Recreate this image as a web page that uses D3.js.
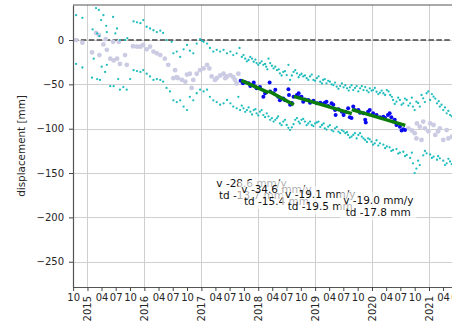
<!DOCTYPE html>
<html>
<head>
<meta charset="utf-8">
<script src="https://cdn.jsdelivr.net/npm/d3@7"></script>
<style>
  body { margin: 0; background: #fff; }
  svg { display: block; font-family: "DejaVu Sans", sans-serif; }
</style>
</head>
<body>
<svg id="chart" width="452" height="326"></svg>
<script>
// displacement series, [decimal year, mm]
const grayPts = [
  [2014.80, 0], [2014.91, -3], [2015.08, -14], [2015.15, 8], [2015.20, 5.6], [2015.21, -17],
  [2015.28, -5], [2015.32, 1], [2015.34, -11], [2015.40, -21], [2015.45, -2], [2015.46, -23],
  [2015.52, -21], [2015.55, -2], [2015.57, -27], [2015.66, -17], [2015.69, -28], [2015.80, -7],
  [2015.87, -7.5], [2015.93, -7.5], [2015.98, -5.6], [2016.04, -10.5], [2016.10, -7.5], [2016.16, -13],
  [2016.22, -15], [2016.28, -17], [2016.36, -21], [2016.42, -28], [2016.51, -43], [2016.54, -34],
  [2016.57, -42], [2016.59, -43], [2016.66, -45], [2016.72, -47], [2016.75, -39], [2016.80, -38],
  [2016.83, -54], [2016.86, -45], [2016.92, -38], [2016.98, -34], [2017.04, -32], [2017.10, -28],
  [2017.14, -32], [2017.18, -41], [2017.24, -45], [2017.27, -43], [2017.33, -40], [2017.39, -38],
  [2017.42, -43], [2017.45, -41], [2017.51, -39.5], [2017.56, -42], [2017.59, -45], [2017.62, -49],
  [2017.65, -38],
  [2020.64, -99.6], [2020.70, -102], [2020.75, -105], [2020.78, -111], [2020.79, -94], [2020.84, -97.7],
  [2020.87, -112.7], [2020.90, -92], [2020.93, -99.6], [2020.99, -103], [2021.02, -94], [2021.08, -95.8],
  [2021.11, -107], [2021.16, -103], [2021.19, -99.6], [2021.25, -112.7], [2021.31, -101.5], [2021.34, -111],
  [2021.40, -109]
];

const bluePts = [
  [2017.69, -45.9], [2017.73, -48.8], [2017.77, -47.7], [2017.83, -48.8], [2017.86, -51.9], [2017.92, -48],
  [2017.94, -52], [2017.97, -54.5], [2018.03, -53], [2018.09, -64], [2018.12, -60], [2018.20, -48],
  [2018.21, -58], [2018.27, -60], [2018.30, -56], [2018.35, -64], [2018.38, -68], [2018.44, -66],
  [2018.47, -68], [2018.53, -55.6], [2018.54, -62], [2018.56, -73], [2018.59, -71], [2018.62, -64],
  [2018.68, -62], [2018.71, -60], [2018.73, -64.6], [2018.76, -64], [2018.79, -69.5], [2018.82, -67],
  [2018.88, -67.6], [2018.91, -70.7], [2018.97, -68.4], [2019.03, -71.4], [2019.09, -70.7], [2019.14, -72],
  [2019.17, -70.7], [2019.20, -69.5], [2019.23, -74.4], [2019.29, -71.4], [2019.32, -73], [2019.35, -79],
  [2019.36, -84.6], [2019.41, -78], [2019.47, -80.8], [2019.50, -84.6], [2019.53, -80.8], [2019.58, -77],
  [2019.61, -87], [2019.64, -88], [2019.67, -75], [2019.70, -79], [2019.76, -79], [2019.79, -82],
  [2019.85, -82.6], [2019.88, -90], [2019.89, -93], [2019.93, -80.8], [2019.96, -79], [2020.02, -82.6],
  [2020.08, -84.6], [2020.14, -87], [2020.20, -86.5], [2020.23, -88], [2020.28, -84.6], [2020.31, -82.6],
  [2020.34, -87], [2020.37, -92], [2020.40, -90], [2020.43, -95.8], [2020.49, -97.7], [2020.52, -102],
  [2020.55, -100.7], [2020.58, -101.5]
];

const cyanUpper = [
  [2014.80, 28], [2014.91, 25], [2015.09, 12], [2015.15, 36], [2015.17, 7.5], [2015.20, 34],
  [2015.21, 4.5], [2015.24, 22.5], [2015.28, 28], [2015.33, 16], [2015.34, 9], [2015.45, 26],
  [2015.49, 7.5], [2015.52, 13], [2015.57, 0], [2015.66, 0], [2015.70, 2], [2015.81, 21],
  [2015.87, 20], [2015.93, 19], [2015.98, 22.5], [2016.04, 15], [2016.10, 13], [2016.16, 11],
  [2016.22, 9], [2016.28, 10.5], [2016.33, 8], [2016.39, 0], [2016.48, -2], [2016.51, -15],
  [2016.57, -13], [2016.63, -19], [2016.69, -10.5], [2016.75, -5.6], [2016.80, -12], [2016.86, -15],
  [2016.92, -4], [2016.98, 1], [2017.01, -1], [2017.04, -2], [2017.10, -4], [2017.15, -9],
  [2017.21, -13], [2017.27, -11], [2017.33, -13], [2017.39, -11], [2017.45, -15], [2017.51, -13],
  [2017.56, -17], [2017.62, -15], [2017.67, -9], [2017.71, -19], [2017.77, -21], [2017.83, -22.5],
  [2017.89, -21], [2017.92, -24.5], [2017.97, -26], [2018.03, -26], [2018.09, -28], [2018.14, -30],
  [2018.18, -21], [2018.21, -26], [2018.27, -32], [2018.33, -34], [2018.38, -37.5], [2018.44, -36],
  [2018.50, -39.5], [2018.53, -28], [2018.56, -45], [2018.62, -36], [2018.68, -37.5], [2018.73, -39.5],
  [2018.79, -41], [2018.85, -43], [2018.91, -41], [2018.97, -45], [2019.03, -43], [2019.09, -47],
  [2019.14, -45], [2019.20, -48.8], [2019.26, -47], [2019.32, -50.7], [2019.38, -52.6], [2019.44, -51.9],
  [2019.50, -53.3], [2019.56, -54.5], [2019.61, -53.3], [2019.67, -56.4], [2019.73, -51.9], [2019.79, -54.5],
  [2019.85, -56.4], [2019.91, -57], [2019.96, -54.5], [2020.02, -56.4], [2020.08, -58.3], [2020.14, -59.4],
  [2020.20, -60], [2020.26, -56.4], [2020.32, -62], [2020.37, -67.6], [2020.43, -69.5], [2020.49, -67.6],
  [2020.55, -71.4], [2020.61, -67.6], [2020.67, -71.4], [2020.72, -75], [2020.78, -69.5], [2020.84, -75],
  [2020.90, -65.7], [2020.96, -60], [2021.02, -67.6], [2021.08, -63.9], [2021.14, -71.4], [2021.19, -75],
  [2021.25, -79], [2021.31, -82.6], [2021.37, -84.6],
  [2017.74, -17], [2017.80, -24], [2017.86, -19], [2017.95, -22], [2018.00, -28], [2018.06, -24],
  [2018.12, -27], [2018.16, -33], [2018.24, -29], [2018.30, -30], [2018.36, -33], [2018.41, -40],
  [2018.47, -35], [2018.59, -40], [2018.65, -34], [2018.71, -42], [2018.76, -38], [2018.82, -40],
  [2018.88, -45], [2018.94, -39], [2019.00, -46], [2019.06, -41], [2019.12, -49], [2019.17, -44],
  [2019.23, -46], [2019.29, -50], [2019.35, -48], [2019.41, -55], [2019.47, -49], [2019.53, -51],
  [2019.59, -57], [2019.64, -51], [2019.70, -54], [2019.76, -58], [2019.82, -52], [2019.88, -53],
  [2019.94, -59], [2019.99, -57], [2020.05, -54], [2020.11, -61], [2020.17, -57], [2020.23, -62],
  [2020.29, -58], [2020.35, -64], [2020.40, -72], [2020.46, -65], [2020.52, -73], [2020.58, -66],
  [2020.64, -74], [2020.70, -65], [2020.75, -79], [2020.81, -71], [2020.87, -62], [2020.93, -70],
  [2020.99, -58], [2021.05, -61], [2021.11, -66], [2021.17, -69], [2021.22, -73], [2021.28, -76],
  [2021.34, -80], [2021.40, -86]
];

const cyanLower = [
  [2014.80, -27], [2014.91, -31], [2015.08, -42.5], [2015.11, -21], [2015.17, -44], [2015.22, -45],
  [2015.25, -30], [2015.31, -36], [2015.34, -28], [2015.40, -52], [2015.46, -52], [2015.54, -44],
  [2015.57, -56], [2015.63, -53], [2015.69, -56], [2015.75, -44], [2015.81, -34], [2015.87, -35],
  [2015.93, -36], [2015.98, -34], [2016.04, -38], [2016.10, -41], [2016.16, -45], [2016.22, -44],
  [2016.28, -45], [2016.33, -47], [2016.39, -54], [2016.45, -58], [2016.51, -68], [2016.57, -70],
  [2016.63, -68], [2016.69, -75], [2016.75, -79], [2016.80, -64], [2016.86, -68], [2016.92, -60],
  [2016.98, -56], [2017.04, -58], [2017.10, -56], [2017.15, -64], [2017.21, -68], [2017.27, -70],
  [2017.33, -73], [2017.39, -71.4], [2017.45, -67.6], [2017.51, -71.4], [2017.56, -75], [2017.62, -77],
  [2017.65, -64], [2017.68, -79], [2017.74, -77], [2017.80, -79], [2017.86, -80.8], [2017.92, -79],
  [2017.97, -82.6], [2018.03, -80.8], [2018.09, -84.6], [2018.15, -82.6], [2018.21, -90], [2018.27, -92],
  [2018.33, -88], [2018.38, -94], [2018.44, -92], [2018.50, -95.8], [2018.56, -101.5], [2018.59, -98.4],
  [2018.65, -90], [2018.71, -92], [2018.76, -90], [2018.82, -92], [2018.88, -94], [2018.94, -95.8],
  [2019.00, -94], [2019.06, -92], [2019.12, -95.8], [2019.17, -99.6], [2019.23, -97.7], [2019.29, -101.5],
  [2019.35, -99.6], [2019.41, -103.4], [2019.47, -101.5], [2019.53, -105], [2019.58, -107], [2019.64, -109],
  [2019.70, -105], [2019.76, -107], [2019.82, -109], [2019.88, -112.7], [2019.93, -110.8], [2019.99, -114.6],
  [2020.05, -116.5], [2020.14, -116.5], [2020.26, -120], [2020.37, -124], [2020.49, -127], [2020.61, -129.6],
  [2020.72, -139], [2020.75, -150], [2020.84, -141], [2020.96, -127.8], [2021.08, -131.5], [2021.14, -135],
  [2021.19, -133.4], [2021.31, -139], [2021.37, -137],
  [2017.71, -74], [2017.77, -81], [2017.83, -76], [2017.89, -84], [2017.95, -78], [2018.00, -85],
  [2018.06, -79], [2018.12, -87], [2018.18, -86], [2018.24, -88], [2018.30, -90], [2018.35, -86],
  [2018.41, -96], [2018.47, -90], [2018.53, -99], [2018.62, -95], [2018.68, -88], [2018.73, -94],
  [2018.79, -89], [2018.85, -96], [2018.91, -92], [2018.97, -97], [2019.03, -93], [2019.09, -98],
  [2019.15, -94], [2019.20, -101], [2019.26, -96], [2019.32, -103], [2019.38, -98], [2019.44, -105],
  [2019.50, -103], [2019.56, -104], [2019.61, -110], [2019.67, -107], [2019.73, -111], [2019.79, -105],
  [2019.85, -111], [2019.91, -115], [2019.96, -112], [2020.02, -118], [2020.08, -113], [2020.11, -119],
  [2020.20, -118], [2020.23, -122], [2020.31, -121], [2020.34, -125], [2020.43, -123], [2020.46, -128],
  [2020.55, -126], [2020.58, -131], [2020.67, -133], [2020.70, -127], [2020.78, -145], [2020.81, -136],
  [2020.90, -130], [2020.93, -125], [2021.02, -129], [2021.05, -133], [2021.16, -131], [2021.25, -136],
  [2021.28, -141], [2021.34, -134], [2021.40, -140]
];

// piecewise linear fits
const segStart = [2017.70, 2018.18, 2018.625, 2019.645];
const segEnd = [2018.18, 2018.625, 2019.645, 2020.585];
const segStartValue = [-45.5, -57.5, -63.5, -78.5];
const velocity = [-28.6, -34.6, -19.1, -19.0];
const totalDisp = [-13.7, -15.4, -19.5, -17.8];
const labelYear = [2017.88, 2018.32, 2019.09, 2020.11];
const labelValue = [-168.5, -175.3, -181.5, -188];

const yTicks = [0, -50, -100, -150, -200, -250];

const toDate = d => {
  const yr = Math.floor(d);
  return new Date(Date.UTC(yr, 0, 1) + (d - yr) * 365.25 * 864e5);
};

const svg = d3.select("#chart");
const plotLeft = 73, plotTop = 5, plotBottom = 287, plotRight = 463;

const x = d3.scaleUtc()
  .domain([toDate(2014.745), toDate(2021.597)])
  .range([plotLeft, plotRight]);

const y = d3.scaleLinear()
  .domain([-278.5, 39.5])
  .range([plotBottom, plotTop]);

// grid
const grid = svg.append("g").attr("stroke", "#cfcfcf").attr("stroke-width", 1);
grid.selectAll("line.h").data(yTicks).join("line")
  .attr("x1", plotLeft).attr("x2", plotRight)
  .attr("y1", d => Math.round(y(d)) + 0.5).attr("y2", d => Math.round(y(d)) + 0.5);
grid.selectAll("line.v").data(d3.utcYear.range(x.domain()[0], x.domain()[1])).join("line")
  .attr("x1", d => Math.round(x(d)) + 0.5).attr("x2", d => Math.round(x(d)) + 0.5)
  .attr("y1", plotTop).attr("y2", plotBottom);

// zero line
svg.append("line")
  .attr("x1", plotLeft).attr("x2", plotRight)
  .attr("y1", y(0)).attr("y2", y(0))
  .attr("stroke", "#444").attr("stroke-width", 1.5)
  .attr("stroke-dasharray", "5.5,2.4");

// points
const dots = (data, r, color) => svg.append("g")
  .selectAll("circle").data(data).join("circle")
  .attr("cx", d => x(toDate(d[0])))
  .attr("cy", d => y(d[1]))
  .attr("r", r)
  .attr("fill", color);

dots(grayPts, 2.4, "#cbcbe3");
dots(cyanUpper, 1.15, "#1fbdbd");
dots(cyanLower, 1.15, "#1fbdbd");
dots(bluePts, 2, "#0a0af0");

// fit segments
svg.append("g").selectAll("line").data(segStart).join("line")
  .attr("x1", d => x(toDate(d)))
  .attr("x2", (d, i) => x(toDate(segEnd[i])))
  .attr("y1", (d, i) => y(segStartValue[i]))
  .attr("y2", (d, i) => y(segStartValue[i] + totalDisp[i]))
  .attr("stroke", "#0a7d0a")
  .attr("stroke-width", 3.5);

// axes
const yAxis = svg.append("g")
  .attr("transform", `translate(${plotLeft},0)`)
  .call(d3.axisLeft(y).tickValues(yTicks).tickSize(4).tickPadding(5).tickSizeOuter(0));

const xAxis = svg.append("g")
  .attr("transform", `translate(0,${plotBottom})`)
  .call(d3.axisBottom(x)
    .ticks(d3.utcMonth.every(3))
    .tickSize(4).tickSizeOuter(0)
    .tickFormat(d => d.getUTCMonth() === 0 ? d.getUTCFullYear() : d3.utcFormat("%m")(d)));

xAxis.selectAll(".tick text")
  .filter(d => d.getUTCMonth() === 0)
  .attr("transform", "rotate(-90)")
  .attr("x", -9).attr("y", 0).attr("dy", "0.35em")
  .attr("text-anchor", "end");

[yAxis, xAxis].forEach(a => {
  a.selectAll("text").attr("font-size", 10).attr("font-family", "DejaVu Sans").attr("fill", "#262626");
  a.selectAll("line").attr("stroke", "#444");
  a.select(".domain").attr("stroke", "#555").attr("stroke-width", 1.2);
});

// top spine
svg.append("line")
  .attr("x1", plotLeft).attr("x2", plotRight).attr("y1", plotTop).attr("y2", plotTop)
  .attr("stroke", "#555").attr("stroke-width", 1.2);

svg.append("text")
  .attr("transform", `translate(25,${(plotTop + plotBottom) / 2}) rotate(-90)`)
  .attr("text-anchor", "middle")
  .attr("font-size", 10.4)
  .attr("fill", "#262626")
  .text("displacement [mm]");

// fit annotations, later boxes partly hide earlier labels
velocity.forEach((v, i) => {
  const cx = x(toDate(labelYear[i])), cy = y(labelValue[i]);
  const g = svg.append("g");
  const rect = g.append("rect").attr("fill", "#fff").attr("fill-opacity", 0.65);
  const t = g.append("text")
    .attr("font-size", 10.5).attr("fill", "#111").attr("text-anchor", "middle")
    .attr("transform", `translate(${cx},${cy})`);
  t.append("tspan").attr("x", 0).attr("y", -2.5).text(`v ${v.toFixed(1)} mm/y`);
  t.append("tspan").attr("x", 0).attr("y", 9.5).text(`td ${totalDisp[i].toFixed(1)} mm`);
  const b = t.node().getBBox();
  rect.attr("x", cx + b.x - 3).attr("y", cy + b.y - 2)
    .attr("width", b.width + 6).attr("height", b.height + 4);
});
</script>
</body>
</html>
